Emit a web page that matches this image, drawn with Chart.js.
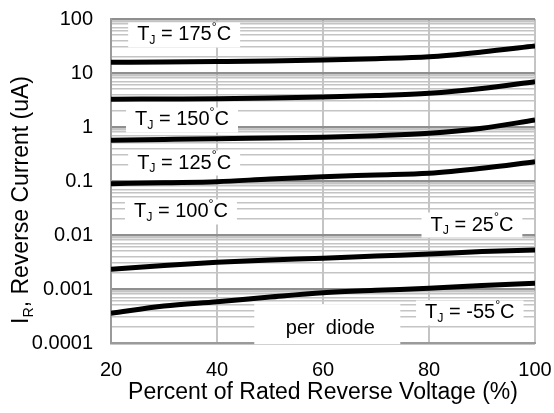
<!DOCTYPE html>
<html>
<head>
<meta charset="utf-8">
<script src="https://cdn.jsdelivr.net/npm/chart.js@4/dist/chart.umd.min.js"></script>
<style>
  body { margin: 0; background: #fff; }
  #wrap { width: 554px; height: 413px; }
</style>
</head>
<body>
<div id="wrap"><canvas id="chart"></canvas></div>
<script>
// percent of rated reverse voltage
const xValues = [20, 30, 40, 50, 60, 70, 80, 90, 100];

// reverse current (uA), one list per junction temperature
const iR175 = [15.8, 16.0, 16.3, 16.7, 17.4, 18.4, 20.0, 24.5, 31.6];
const iR150 = [3.26, 3.30, 3.34, 3.44, 3.60, 3.83, 4.21, 5.16, 6.90];
const iR125 = [0.567, 0.587, 0.607, 0.625, 0.644, 0.690, 0.764, 0.946, 1.35];
const iR100 = [0.0891, 0.0931, 0.0971, 0.109, 0.120, 0.129, 0.139, 0.172, 0.228];
const iR25 = [0.00232, 0.00272, 0.00312, 0.00344, 0.00371, 0.00408, 0.00445, 0.00494, 0.00527];
const iRm55 = [0.000355, 0.000484, 0.000582, 0.000711, 0.000853, 0.000946, 0.00103, 0.00116, 0.00128];

const seriesNames = ["TJ = 175°C", "TJ = 150°C", "TJ = 125°C", "TJ = 100°C", "TJ = 25°C", "TJ = -55°C"];
const seriesTemps = ["175", "150", "125", "100", "25", "-55"];

const xTicks = [20, 40, 60, 80, 100];
const yMajorTicks = [0.0001, 0.001, 0.01, 0.1, 1, 10, 100];
const yTickLabels = ["0.0001", "0.001", "0.01", "0.1", "1", "10", "100"];

// annotation anchors in data units: [x %, y uA]
const labelAnchors = [[33.8, 50.6], [33.4, 1.35], [33.8, 0.215], [33.2, 0.0267], [88.1, 0.0153], [87.7, 0.00036]];
const noteText = "per  diode";
const noteAnchor = [61.0, 0.000188];

const FONT = "'Liberation Sans', Arial, sans-serif";

// all 1..9 x 10^k grid positions
const yGrid = [];
yMajorTicks.forEach((m, i) => {
  if (i === yMajorTicks.length - 1) { yGrid.push(m); return; }
  for (let k = 1; k <= 9; k++) yGrid.push(+(m * k).toPrecision(3));
});

function isMajor (v) {
  return yMajorTicks.some(m => Math.abs(v / m - 1) < 1e-6);
}

function drawParts (ctx, parts, x, y, size) {
  // parts: [text, kind]; kind '' | 'sub' | 'sup'
  let cx = x;
  parts.forEach(([t, kind]) => {
    const s = kind ? size * 0.62 : size;
    ctx.font = s + "px " + FONT;
    let dy = 0;
    if (kind === "sub") dy = size * 0.3;
    if (kind === "sup") dy = -size * 0.36;
    ctx.fillText(t, cx, y + dy);
    cx += ctx.measureText(t).width;
  });
  return cx - x;
}

function measureParts (ctx, parts, size) {
  let w = 0;
  parts.forEach(([t, kind]) => {
    ctx.font = (kind ? size * 0.62 : size) + "px " + FONT;
    w += ctx.measureText(t).width;
  });
  return w;
}

const annotations = {
  id: "annotations",
  beforeDatasetsDraw (chart) {
    const { ctx, scales } = chart;
    ctx.save();
    ctx.textBaseline = "middle";
    ctx.textAlign = "left";
    const size = 20;
    seriesTemps.forEach((t, i) => {
      const parts = [["T", ""], ["J", "sub"], [" = " + t, ""], ["°", "sup"], ["C", ""]];
      const w = measureParts(ctx, parts, size);
      const cx = scales.x.getPixelForValue(labelAnchors[i][0]);
      const cy = scales.y.getPixelForValue(labelAnchors[i][1]);
      ctx.fillStyle = "#fff";
      ctx.fillRect(cx - w / 2 - 9, cy - 12.5, w + 18, 25);
      ctx.fillStyle = "#000";
      drawParts(ctx, parts, cx - w / 2, cy, size);
    });
    // per diode note
    const nx = scales.x.getPixelForValue(noteAnchor[0]);
    const ny = scales.y.getPixelForValue(noteAnchor[1]);
    ctx.fillStyle = "#fff";
    ctx.fillRect(nx - 74, ny - 24, 146, 40);
    ctx.fillStyle = "#000";
    ctx.font = "20px " + FONT;
    ctx.textAlign = "center";
    ctx.fillText(noteText, nx + 2, ny);
    ctx.restore();
  },
  afterDraw (chart) {
    const { ctx } = chart;
    ctx.save();
    ctx.translate(22, 200);
    ctx.rotate(-Math.PI / 2);
    ctx.textBaseline = "middle";
    ctx.textAlign = "left";
    ctx.fillStyle = "#000";
    const parts = [["I", ""], ["R", "sub"], [", Reverse Current (uA)", ""]];
    const w = measureParts(ctx, parts, 23);
    drawParts(ctx, parts, -w / 2, 0, 23);
    ctx.restore();
  }
};

const curves = [iR175, iR150, iR125, iR100, iR25, iRm55];

new Chart(document.getElementById("chart"), {
  type: "line",
  data: {
    datasets: curves.map((vals, i) => ({
      label: seriesNames[i],
      data: xValues.map((x, j) => ({ x, y: vals[j] })),
      borderColor: "#000",
      borderWidth: 5,
      pointRadius: 0,
      cubicInterpolationMode: "monotone",
      fill: false,
    })),
  },
  options: {
    responsive: true,
    maintainAspectRatio: false,
    animation: false,
    layout: { padding: { top: 19, right: 19, left: 0, bottom: 0 } },
    plugins: { legend: { display: false }, tooltip: { enabled: false } },
    scales: {
      x: {
        type: "linear",
        min: 20,
        max: 100,
        afterBuildTicks: s => { s.ticks = xTicks.map(v => ({ value: v })); },
        afterFit: s => { s.height = 70; s.paddingLeft = 0; s.paddingRight = 0; },
        ticks: { color: "#000", font: { family: FONT, size: 20 }, padding: 15, maxRotation: 0 },
        grid: {
          drawTicks: false,
          color: c => (c.tick && c.tick.value === 20 ? "#9a9a9a" : "#c4c4c4"),
          lineWidth: 2,
        },
        border: { color: "#9a9a9a", width: 2 },
        title: {
          display: true,
          text: "Percent of Rated Reverse Voltage (%)",
          color: "#000",
          font: { family: FONT, size: 23 },
          padding: { top: 0, bottom: 7 },
        },
      },
      y: {
        type: "logarithmic",
        min: 0.0001,
        max: 100,
        afterBuildTicks: s => { s.ticks = yGrid.map(v => ({ value: v })); },
        afterFit: s => { s.width = 111; s.paddingTop = 0; s.paddingBottom = 0; },
        ticks: {
          autoSkip: false,
          color: "#000",
          font: { family: FONT, size: 20 },
          padding: 18,
          callback: v => {
            const i = yMajorTicks.findIndex(m => Math.abs(v / m - 1) < 1e-6);
            return i >= 0 ? yTickLabels[i] : "";
          },
        },
        grid: {
          drawTicks: false,
          color: c => (c.tick && isMajor(c.tick.value) ? "#8f8f8f" : "#c4c4c4"),
          lineWidth: c => (c.tick && isMajor(c.tick.value) ? 2.5 : 1.6),
        },
        border: { color: "#9a9a9a", width: 2 },
      },
    },
  },
  plugins: [annotations],
});
</script>
</body>
</html>
